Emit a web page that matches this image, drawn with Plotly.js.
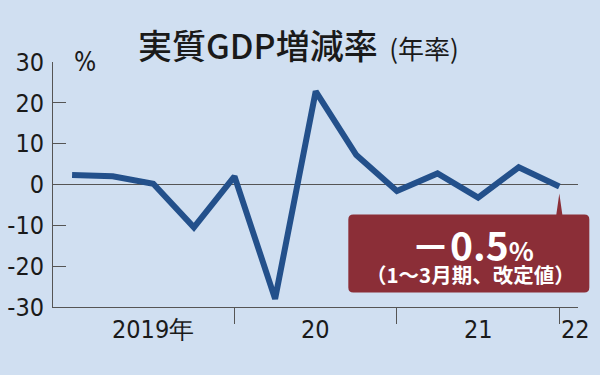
<!DOCTYPE html>
<html>
<head>
<meta charset="utf-8">
<script src="https://cdn.plot.ly/plotly-3.0.1.min.js"></script>
<style>html,body{margin:0;padding:0;background:#d0dff1;}#chart{width:600px;height:375px;}</style>
</head>
<body>
<div id="chart"></div>
<script>
// ---- data ----
const quarters = ['2019Q1','2019Q2','2019Q3','2019Q4','2020Q1','2020Q2','2020Q3','2020Q4','2021Q1','2021Q2','2021Q3','2021Q4','2022Q1'];
const gdpGrowth = [2.3, 2.0, 0.2, -10.5, 2.0, -28.0, 22.8, 7.2, -1.6, 2.7, -3.2, 4.2, -0.5];
const yTickVals = [30, 20, 10, 0, -10, -20, -30];
const yTickText = ['30', '20', '10', '0', '-10', '-20', '-30'];
const yearLabels = ['2019年', '20', '21', '22'];
const yearLabelPos = [2, 6, 10, 12.4];
const calloutValue = '－0.5';
const calloutNote = '（1～3月期、改定値）';

const xIdx = quarters.map((q, i) => i);
const yearTickIdx = quarters.map((q, i) => (q.endsWith('Q1') && i > 0) ? i : null).filter(v => v !== null);
const lastI = xIdx[xIdx.length - 1];
const lastV = gdpGrowth[gdpGrowth.length - 1];
const xRange = [-0.47, 12.46];
const yRange = [-30, 30];
const margin = {l: 53, r: 22, t: 62, b: 68};
const W = 600, H = 375;
const plotW = W - margin.l - margin.r, plotH = H - margin.t - margin.b;
const lastPaperX = (lastI - xRange[0]) / (xRange[1] - xRange[0]);
const lastPaperY = (lastV - yRange[0]) / (yRange[1] - yRange[0]);

// callout outline: pixel offsets from the last data point (y up), converted to paper units
const calloutOutline = [
  ['M', -206, -28], ['L', -3, -28], ['L', 0, -7], ['L', 3, -28], ['L', 25, -28],
  ['Q', 30, -28, 30, -33], ['L', 30, -101], ['Q', 30, -106, 25, -106],
  ['L', -206, -106], ['Q', -211, -106, -211, -101], ['L', -211, -33], ['Q', -211, -28, -206, -28]
];
const px = dx => (lastPaperX + dx / plotW).toFixed(5);
const py = dy => (lastPaperY + dy / plotH).toFixed(5);
const boxPath = calloutOutline.map(s => {
  const pts = [];
  for (let k = 1; k < s.length; k += 2) pts.push(px(s[k]) + ',' + py(s[k + 1]));
  return s[0] + ' ' + pts.join(' ');
}).join(' ') + ' Z';

const narrow = 'Liberation Sans Narrow, DejaVu Sans Condensed, sans-serif';
const cjk = 'Noto Sans CJK JP, Noto Sans, sans-serif';

const trace = {
  x: xIdx, y: gdpGrowth, type: 'scatter', mode: 'lines',
  line: {color: '#23508b', width: 6}, hoverinfo: 'skip', cliponaxis: false
};

const annotations = yearLabels.map((t, k) => ({
  text: t, x: yearLabelPos[k], xref: 'x', y: 0, yref: 'paper',
  yshift: -22, xanchor: 'center', yanchor: 'middle', showarrow: false,
  font: {family: narrow, size: 25, color: '#1a1a1a'}
}));
annotations.push({
  text: '%', x: 0.036, xref: 'paper', y: 30, yref: 'y', xanchor: 'left', yanchor: 'middle',
  showarrow: false, font: {family: narrow, size: 26, color: '#1a1a1a'}
});
annotations.push({
  text: '<b>' + calloutValue + '<span style="font-size:26px">%</span></b>',
  x: lastI, xref: 'x', y: lastV, yref: 'y', xshift: -87, yshift: -57,
  xanchor: 'center', yanchor: 'middle', showarrow: false,
  font: {family: cjk, size: 39, color: '#ffffff'}
});
annotations.push({
  text: '<b>' + calloutNote + '</b>',
  x: lastI, xref: 'x', y: lastV, yref: 'y', xshift: -89, yshift: -87,
  xanchor: 'center', yanchor: 'middle', showarrow: false,
  font: {family: cjk, size: 20.5, color: '#ffffff'}
});

const layout = {
  width: W, height: H,
  margin: margin,
  paper_bgcolor: '#d0dff1', plot_bgcolor: '#d0dff1',
  showlegend: false,
  title: {
    text: '<span style="font-weight:500">実質GDP増減率</span><span style="font-size:26px">  (年率)</span>',
    x: 138 / 600, xanchor: 'left', xref: 'container',
    y: 1 - 47 / 375, yanchor: 'middle', yref: 'container',
    font: {family: cjk, size: 34, color: '#1a1a1a'}
  },
  xaxis: {
    range: xRange, tickvals: yearTickIdx, ticktext: yearTickIdx.map(() => ''),
    ticks: 'outside', ticklen: 16, tickcolor: '#555', tickwidth: 1,
    showline: true, linecolor: '#555', linewidth: 1, showgrid: false, zeroline: false, fixedrange: true
  },
  yaxis: {
    range: yRange, tickvals: yTickVals, ticktext: yTickText,
    ticks: 'inside', ticklen: 13, tickcolor: '#555', tickwidth: 1,
    ticklabelstandoff: 3,
    tickfont: {family: narrow, size: 25, color: '#1a1a1a'},
    showline: true, linecolor: '#555', linewidth: 1, showgrid: false,
    zeroline: true, zerolinecolor: '#555', zerolinewidth: 1, fixedrange: true
  },
  shapes: [{
    type: 'path', xref: 'paper', yref: 'paper', path: boxPath,
    fillcolor: '#8b2e37', line: {width: 0}, layer: 'above'
  }],
  annotations: annotations
};

Plotly.newPlot('chart', [trace], layout, {displayModeBar: false, staticPlot: true});
</script>
</body>
</html>
